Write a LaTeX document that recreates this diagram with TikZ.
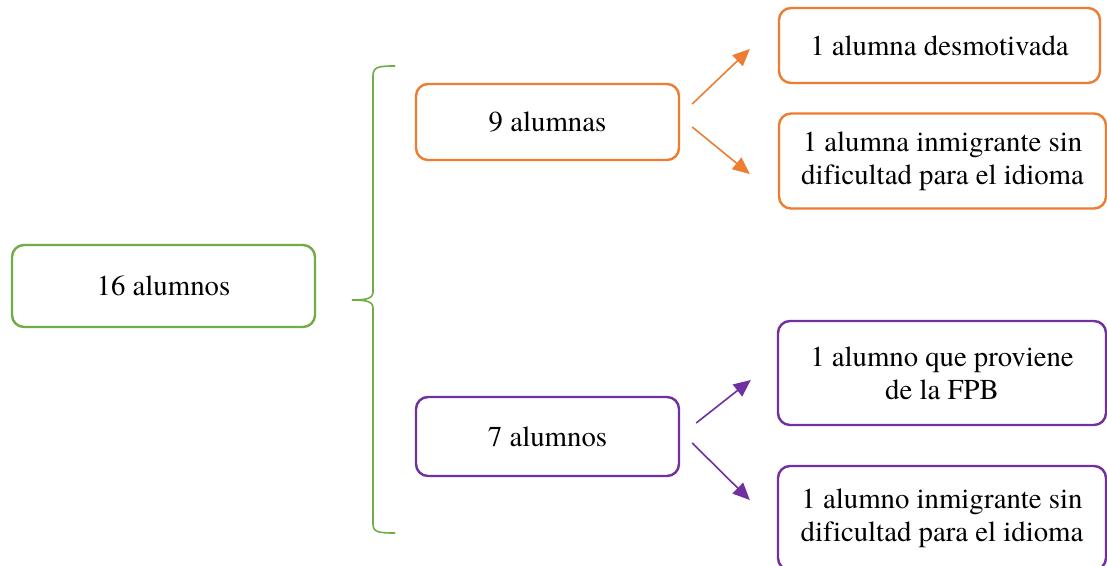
\documentclass[tikz,border=0pt]{standalone}
\usepackage{fontspec}
\setmainfont{texgyretermes}[Extension=.otf,UprightFont=*-regular,Ligatures=NoCommon]
\usetikzlibrary{arrows.meta,calc}

\definecolor{verde}{RGB}{112,173,71}
\definecolor{naranja}{RGB}{237,125,49}
\definecolor{morado}{RGB}{112,48,160}

\tikzset{
	caja/.style={draw,line width=2.4pt,rounded corners=12pt,align=center,
		inner sep=0pt,font=\fontsize{28.8}{33}\selectfont},
	cajav/.style={caja,draw=verde},
	cajan/.style={caja,draw=naranja},
	cajam/.style={caja,draw=morado},
	flechan/.style={draw=naranja,line width=1.6pt,-{Triangle[length=17pt,width=15pt]},fill=naranja},
	flecham/.style={draw=morado,line width=1.6pt,-{Triangle[length=17pt,width=15pt]},fill=morado}
}

\begin{document}
\begin{tikzpicture}[x=1pt,y=-1pt]
		\clip (0,0) rectangle (1107,565);
		\fill[white] (0,0) rectangle (1107,565);
		
		\node[cajav,minimum width=303pt,minimum height=82pt] (total) at (163.5,286) {16 alumnos};
		\node[cajan,minimum width=263pt,minimum height=76pt] (alumnas) at (547.5,122) {9 alumnas};
		\node[cajam,minimum width=263pt,minimum height=79pt] (alumnos) at (547.5,436.5) {7 alumnos};
		
		\node[cajan,minimum width=321pt,minimum height=75pt] (desmot) at (939.5,45.5) {1 alumna desmotivada};
		\node[cajan,minimum width=327pt,minimum height=95pt] (inmigA) at (942.5,161) {1 alumna inmigrante sin\\dificultad para el idioma};
		\node[cajam,minimum width=328pt,minimum height=104pt] (fpb) at (942,373) {1 alumno que proviene\\de la FPB};
		\node[cajam,minimum width=328pt,minimum height=104pt] (inmigO) at (942,518) {1 alumno inmigrante sin\\dificultad para el idioma};
		
		% llave
		\draw[verde,line width=1.6pt] (395,66) .. controls (378,66) and (373,67) .. (373,76) -- (373,292)
			.. controls (373,299) and (365,300) .. (352,300)
			.. controls (365,300) and (373,301) .. (373,308) -- (373,524)
			.. controls (373,532) and (378,533) .. (395,533);
		
		\draw[flechan] ($(alumnas.east)+(12,-18)$) -- ($(desmot.west)+(-28,3.5)$);
		\draw[flechan] ($(alumnas.east)+(12,5)$) -- ($(inmigA.west)+(-28,13)$);
		\draw[flecham] ($(alumnos.east)+(16,-13.5)$) -- ($(fpb.west)+(-26,7)$);
		\draw[flecham] ($(alumnos.east)+(12,6.5)$) -- ($(inmigO.west)+(-27,-18)$);
	\end{tikzpicture}
\end{document}
